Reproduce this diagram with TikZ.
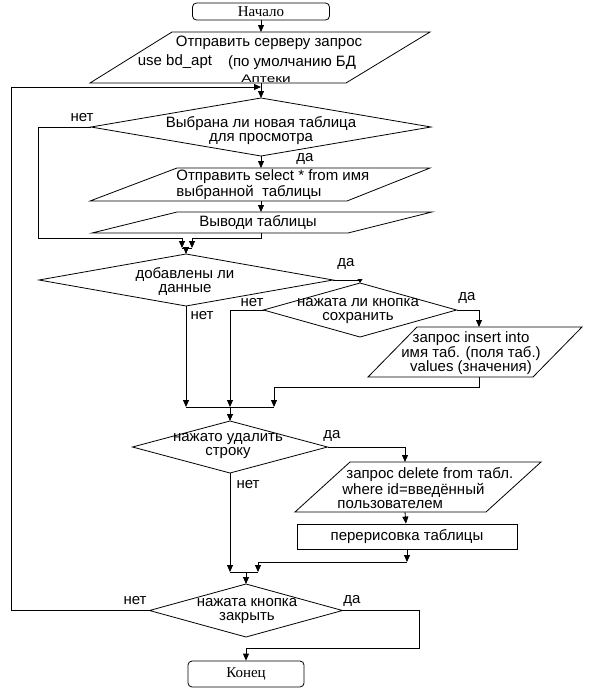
\documentclass[tikz,border=0pt]{standalone}
\usepackage{fontspec}
\setmainfont{Liberation Sans}
\newfontfamily\termfont{Liberation Serif}
\usetikzlibrary{shapes.geometric,arrows.meta}

\tikzset{
  txt/.style={font=\fontsize{15}{14}\selectfont, inner sep=0pt, align=center},
  term/.style={draw, rounded corners=4pt, inner sep=0pt, font=\termfont\fontsize{15}{15}\selectfont},
  dec/.style={draw, diamond, inner sep=0pt, outer sep=0pt},
  arr/.style={-{Triangle[length=7pt,width=6pt]}},
  arrs/.style={-{Triangle[length=4pt,width=5pt]}},
}

\begin{document}
\begin{tikzpicture}[x=1pt,y=-1pt, line width=0.8pt]
  \useasboundingbox (0,0) rectangle (596,691);
  % начало
  \node[term, minimum width=137pt, minimum height=17pt] (start) at (261,11.5) {Начало};
  % запрос серверу
  \draw (172,32) -- (430,32) -- (346,83) -- (90,83) -- cycle;
  \coordinate (sendT) at (261,32);
  \coordinate (sendB) at (261,83);
  \node[txt] (send1) at (269,43) {Отправить серверу запрос};
  \node[txt] (send2) at (175,62) {use bd\_apt};
  \node[txt] (send3) at (292,63) {(по умолчанию БД};
  \node[txt, font=\fontsize{11}{11}\selectfont] (send4) at (266,79) {\scalebox{1.4}[1]{Аптеки}};
  \draw[arr] (start) -- (sendT);
  % новая таблица?
  \node[dec, minimum width=340pt, minimum height=58pt] (qnew) at (261,127) {};
  \node[txt] (qnewt) at (261,131) {Выбрана ли новая таблица\\для просмотра};
  \node[txt] (no1) at (82,118) {нет};
  \node[txt] (yes1) at (305,159) {да};
  \coordinate (loopL) at (11,87);
  \coordinate (loopR) at (261,87);
  \draw[arr] (sendB) -- (qnew);
  \coordinate (inA) at (182,248);
  \coordinate (inB) at (192,248);
  \coordinate (inC) at (186,248);
  \draw[arr] (qnew.west) -| (38,238) -| (inA);
  % select
  \draw (177,168) -- (430,168) -- (347,201) -- (90,201) -- cycle;
  \coordinate (selT) at (261,168);
  \coordinate (selB) at (261,201);
  \node[txt, anchor=west, align=left] (selt) at (176,184.5) {Отправить select * from имя\\выбранной\ \ таблицы};
  \draw[arr] (qnew) -- (selT);
  % вывод
  \draw (177,212) -- (432,212) -- (348,233) -- (92,233) -- cycle;
  \coordinate (outT) at (261,212);
  \coordinate (outB) at (261,233);
  \node[txt] (outt) at (258,222) {Выводи таблицы};
  \draw[arr] (selB) -- (outT);
  \draw[arr] (outB) -- ++(0,5) -| (inB);
  % добавлены ли данные
  \node[dec, minimum width=294pt, minimum height=52pt] (qadd) at (186,280) {};
  \node[txt] (qaddt) at (185,281) {добавлены ли\\данные};
  \node[txt] (yes2) at (346,264) {да};
  \node[txt] (no2) at (202,316) {нет};
  \draw (inA) -- (inB);
  \draw[arr] (inC) -- (qadd);
  % сохранить
  \node[dec, minimum width=193pt, minimum height=54pt] (qsave) at (360,310) {};
  \node[txt] (qsavet) at (358,311) {нажата ли кнопка\\сохранить};
  \node[txt] (no3) at (252,303) {нет};
  \node[txt] (yes3) at (467,298) {да};
  \draw[arrs] (qadd.east) -| (qsave.north);
  \coordinate (mA) at (186,407);
  \coordinate (mB) at (230,407);
  \coordinate (mC) at (274,407);
  \draw[arr] (qadd) -- (mA);
  \draw[arr] (qsave.west) -| (mB);
  % insert
  \draw (417,327) -- (582,327) -- (533,377) -- (368,377) -- cycle;
  \coordinate (insT) at (479,327);
  \coordinate (insB) at (479,377);
  \node[txt] (inst) at (471,353) {запрос insert into\\имя таб. (поля таб.)\\values (значения)};
  \draw[arr] (qsave.east) -| (insT);
  \draw[arr] (insB) -- ++(0,10) -| (mC);
  \draw (mA) -- (mC);
  % удалить строку
  \node[dec, minimum width=195pt, minimum height=52pt] (qdel) at (230,447) {};
  \node[txt] (qdelt) at (228,446) {нажато удалить\\строку};
  \node[txt] (yes4) at (332,436) {да};
  \node[txt] (no4) at (248,485) {нет};
  \draw[arr] (mB) -- (qdel);
  % delete
  \draw (350,462) -- (541,462) -- (486,512) -- (295,512) -- cycle;
  \coordinate (delT) at (405,462);
  \coordinate (delB) at (405,512);
  \node[txt, anchor=west, align=left] (delt) at (337,488) {\hspace*{9pt}запрос delete from табл.\\\hspace*{5pt}where id=введённый\\пользователем};
  \draw[arr] (qdel.east) -| (delT);
  % перерисовка
  \node[draw, minimum width=220pt, minimum height=25pt, inner sep=0pt, font=\fontsize{15}{14}\selectfont] (redraw) at (407,536.5) {перерисовка таблицы};
  \draw[arr] (delB) -- (redraw);
  \coordinate (rdJ) at (407,562);
  \coordinate (mD) at (230,572);
  \coordinate (mE) at (258,572);
  \coordinate (mF) at (246,572);
  \draw[arr] (redraw) -- (rdJ);
  \draw[arr] (rdJ) -| (mE);
  \draw[arr] (qdel) -- (mD);
  \draw (mD) -- (mE);
  % закрыть
  \node[dec, minimum width=193pt, minimum height=53pt] (qclose) at (246,610.5) {};
  \node[txt] (qcloset) at (247,611) {нажата кнопка\\закрыть};
  \node[txt] (no5) at (135,601) {нет};
  \node[txt] (yes5) at (352,601) {да};
  \draw[arr] (mF) -- (qclose);
  \draw[arr] (qclose.west) -| (loopL) -- (loopR);
  % конец
  \node[term, minimum width=116pt, minimum height=26pt] (stop) at (246,674) {Конец};
  \draw[arr] (qclose.east) -- (419,610.5) -- (419,648) -| (stop);
\end{tikzpicture}
\end{document}
